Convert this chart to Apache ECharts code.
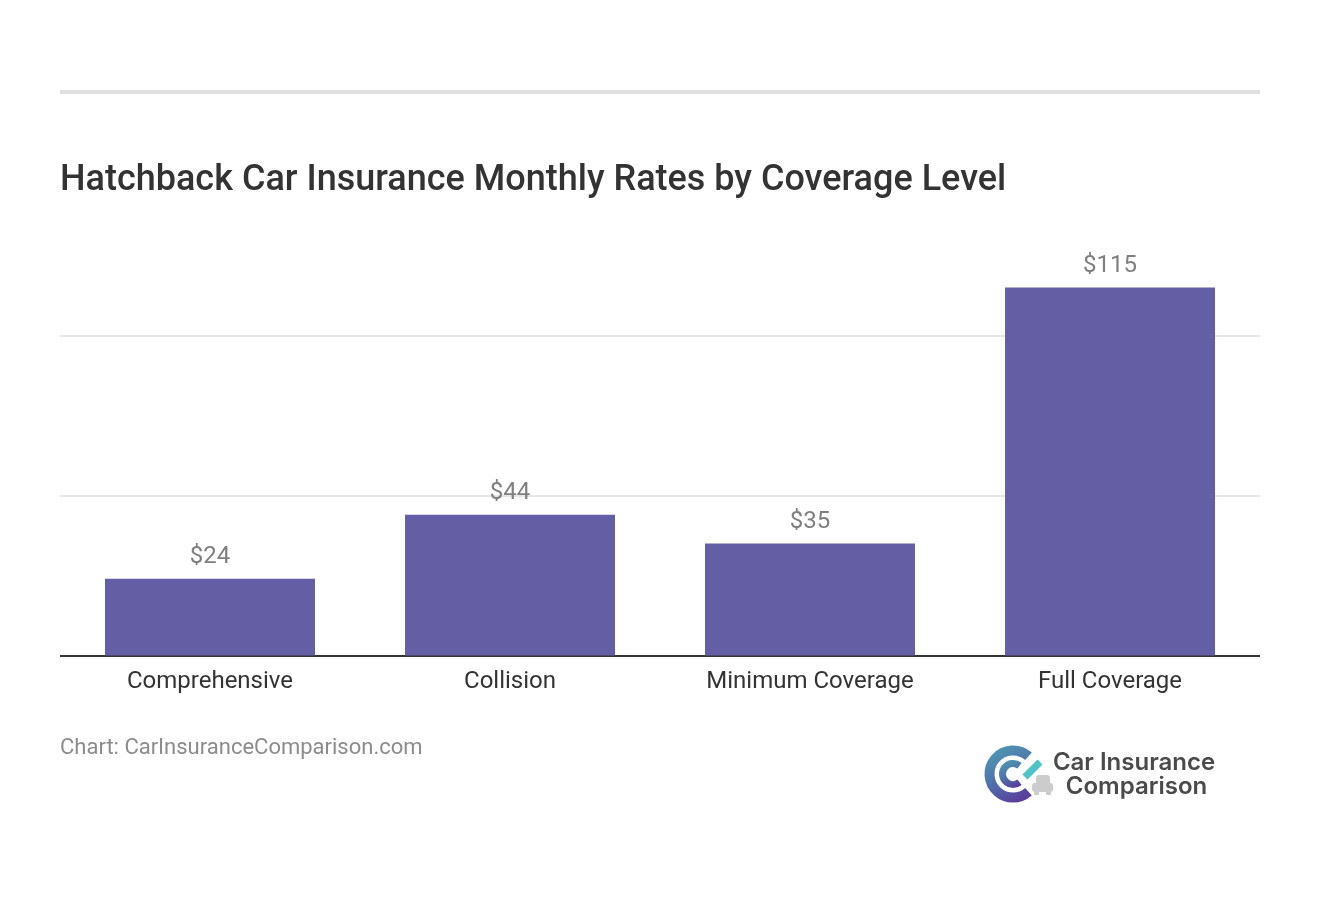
<!DOCTYPE html>
<html>
<head>
<meta charset="utf-8">
<title>Hatchback Car Insurance Monthly Rates by Coverage Level</title>
<style>
  html, body { margin: 0; padding: 0; background: #fff; }
  #chart { width: 1320px; height: 914px; }
</style>
<script src="https://cdn.jsdelivr.net/npm/echarts@6/dist/echarts.min.js"></script>
</head>
<body>
<div id="chart"></div>
<script>
const categories = ['Comprehensive', 'Collision', 'Minimum Coverage', 'Full Coverage'];
const rates = [24, 44, 35, 115];

const chart = echarts.init(document.getElementById('chart'), null, { renderer: 'canvas' });

const ringColor = new echarts.graphic.LinearGradient(0, 0, 0.6, 1, [
  { offset: 0, color: '#4f9fb5' },
  { offset: 0.55, color: '#4f74ab' },
  { offset: 1, color: '#5a3f9c' }
]);

chart.setOption({
  animation: false,
  textStyle: { fontFamily: 'Roboto' },
  title: {
    text: 'Hatchback Car Insurance Monthly Rates by Coverage Level',
    left: 60,
    top: 163,
    padding: 0,
    textStyle: { fontFamily: 'Roboto', fontSize: 36, fontWeight: 500, color: '#333333' }
  },
  grid: { left: 60, right: 60, top: 271.5, bottom: 258.5, containLabel: false },
  xAxis: {
    type: 'category',
    data: categories,
    axisLine: { lineStyle: { color: '#333333', width: 2, cap: 'butt' } },
    axisTick: { show: false },
    axisLabel: { color: '#333333', fontSize: 24, margin: 14, fontFamily: 'Roboto' }
  },
  yAxis: {
    type: 'value',
    min: 0,
    max: 120,
    interval: 50,
    axisLine: { show: false },
    axisTick: { show: false },
    axisLabel: { show: false },
    splitLine: { showMaxLine: false, lineStyle: { color: '#e6e6e6', width: 2 } }
  },
  series: [{
    type: 'bar',
    data: rates,
    barWidth: 210,
    itemStyle: { color: '#645ea5' },
    label: {
      show: true,
      position: 'top',
      distance: 9.5,
      formatter: p => '$' + p.value,
      color: '#7f7f7f',
      fontSize: 24,
      fontFamily: 'Roboto'
    }
  }],
  graphic: [
    { type: 'rect', shape: { x: 60, y: 90, width: 1200, height: 4 }, style: { fill: '#e0e0e0' } },
    { type: 'text', x: 60, y: 737, style: { text: 'Chart: CarInsuranceComparison.com', fill: '#8c8c8c', font: '400 22px Roboto' } },
    // logo
    { type: 'arc', shape: { cx: 1013, cy: 774, r: 23.5, startAngle: -0.85, endAngle: 0.85, clockwise: false }, style: { stroke: ringColor, lineWidth: 10, fill: null } },
    { type: 'arc', shape: { cx: 1013, cy: 774, r: 10.5, startAngle: -0.9, endAngle: 0.9, clockwise: false }, style: { stroke: ringColor, lineWidth: 7, fill: null } },
    { type: 'line', shape: { x1: 1025, y1: 777, x2: 1040, y2: 762 }, style: { stroke: '#4fc4c4', lineWidth: 7 } },
    { type: 'rect', shape: { x: 1032, y: 783, width: 21, height: 9, r: 3 }, style: { fill: '#cccccc' } },
    { type: 'rect', shape: { x: 1036, y: 775, width: 14, height: 10, r: 3 }, style: { fill: '#cccccc' } },
    { type: 'rect', shape: { x: 1034, y: 790, width: 5, height: 5, r: 1 }, style: { fill: '#cccccc' } },
    { type: 'rect', shape: { x: 1046, y: 790, width: 5, height: 5, r: 1 }, style: { fill: '#cccccc' } },
    { type: 'text', x: 1134, y: 763, style: { text: 'Car Insurance', fill: '#4a4a4a', font: '600 24px Inter', align: 'center', verticalAlign: 'middle' } },
    { type: 'text', x: 1136.5, y: 787, style: { text: 'Comparison', fill: '#4a4a4a', font: '600 24px Inter', align: 'center', verticalAlign: 'middle' } }
  ]
});
</script>
</body>
</html>
